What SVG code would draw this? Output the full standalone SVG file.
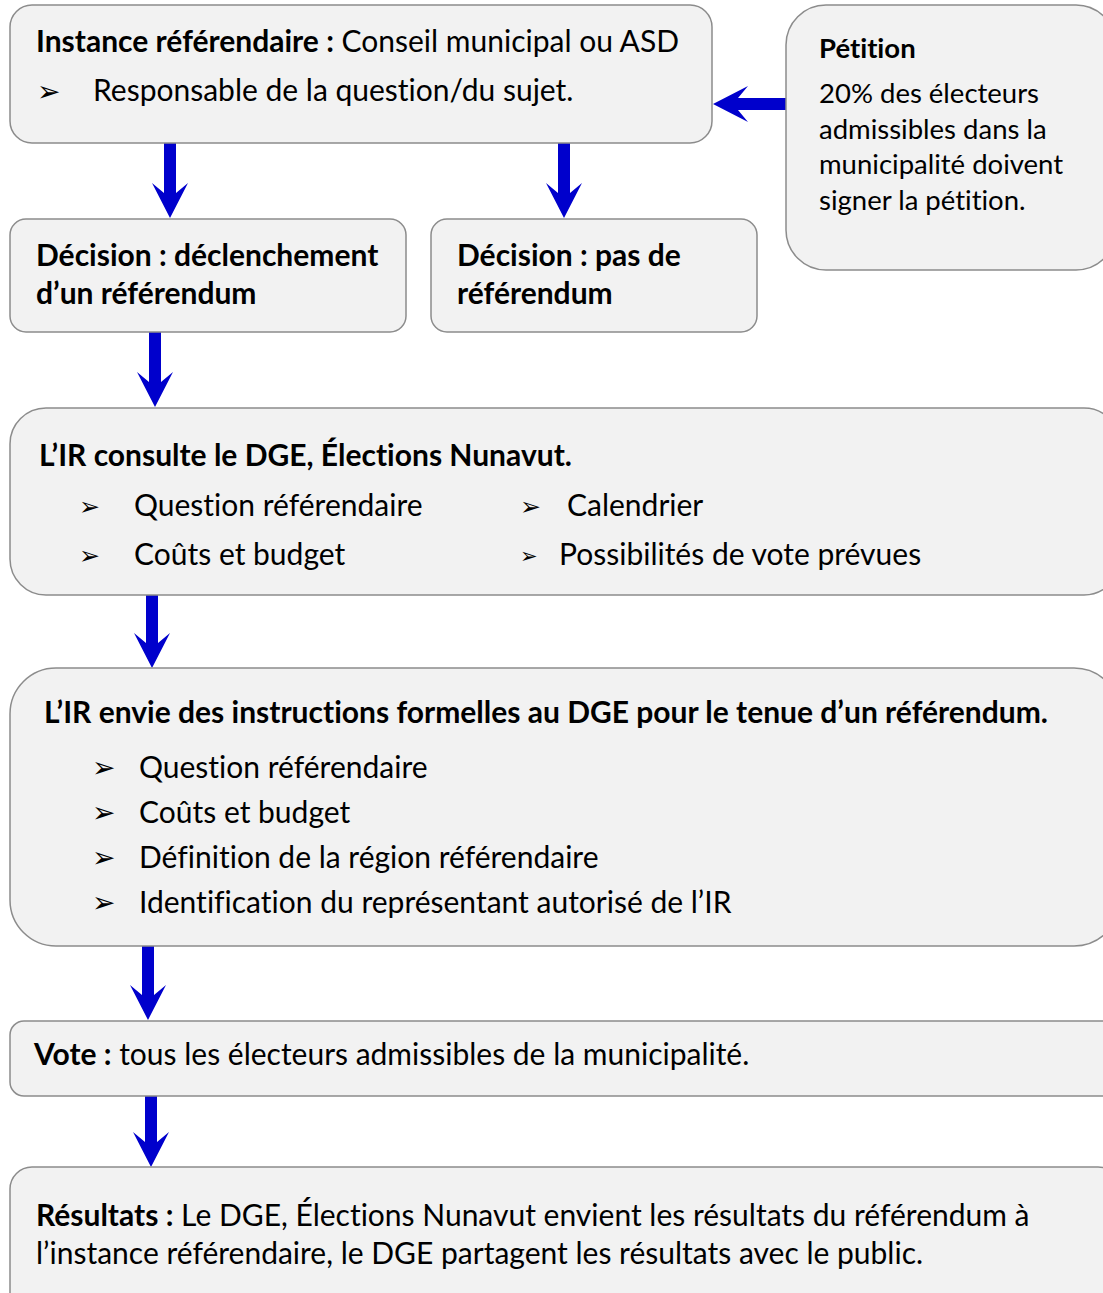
<svg xmlns="http://www.w3.org/2000/svg" width="1103" height="1293" viewBox="0 0 1103 1293">
<style>
.box{fill:#f2f2f2;stroke:#8c8c8c;stroke-width:1.5}
.t{font-family:Lato,"Open Sans","Liberation Sans",sans-serif;font-size:30px;fill:#000;font-variant-ligatures:none}
.p{font-size:27.5px}
.b{font-weight:bold}
.bul{font-family:"DejaVu Sans",sans-serif;font-size:28px;fill:#000}
.arr{fill:#0000cc}
</style>
<g id="connectors" class="arr">
<g transform="translate(170,218)"><polygon points="-6,-75 6,-75 6,-25 18,-35 0,0 -18,-35 -6,-25"/></g>
<g transform="translate(564,218)"><polygon points="-6,-75 6,-75 6,-25 18,-35 0,0 -18,-35 -6,-25"/></g>
<g transform="translate(713,104) rotate(90)"><polygon points="-6,-74 6,-74 6,-25 18,-35 0,0 -18,-35 -6,-25"/></g>
<g transform="translate(155,407)"><polygon points="-6,-75 6,-75 6,-25 18,-35 0,0 -18,-35 -6,-25"/></g>
<g transform="translate(152,668)"><polygon points="-6,-73 6,-73 6,-25 18,-35 0,0 -18,-35 -6,-25"/></g>
<g transform="translate(148,1020)"><polygon points="-6,-74 6,-74 6,-25 18,-35 0,0 -18,-35 -6,-25"/></g>
<g transform="translate(151,1167)"><polygon points="-6,-71 6,-71 6,-25 18,-35 0,0 -18,-35 -6,-25"/></g>
</g>
<g id="instance">
<rect class="box" x="10" y="5" width="702" height="138" rx="22"/>
<text class="t" x="36" y="52"><tspan class="b">Instance référendaire :</tspan> Conseil municipal ou ASD</text>
<text class="bul" x="37" y="101">➢</text>
<text class="t" x="93" y="101">Responsable de la question/du sujet.</text>
</g>
<g id="petition">
<rect class="box" x="786" y="5" width="330" height="265" rx="40"/>
<text class="t p b" x="819" y="58">Pétition</text>
<text class="t p" x="819" y="103">20% des électeurs</text>
<text class="t p" x="819" y="139">admissibles dans la</text>
<text class="t p" x="819" y="174">municipalité doivent</text>
<text class="t p" x="819" y="210">signer la pétition.</text>
</g>
<g id="declenchement">
<rect class="box" x="10" y="219" width="396" height="113" rx="16"/>
<text class="t b" x="36" y="266">Décision : déclenchement</text>
<text class="t b" x="36" y="304">d’un référendum</text>
</g>
<g id="pasdereferendum">
<rect class="box" x="431" y="219" width="326" height="113" rx="16"/>
<text class="t b" x="457" y="266">Décision : pas de</text>
<text class="t b" x="457" y="304">référendum</text>
</g>
<g id="consulte">
<rect class="box" x="10" y="408" width="1110" height="187" rx="36"/>
<text class="t b" x="39" y="466">L’IR consulte le DGE, Élections Nunavut.</text>
<text class="bul" x="79" y="515" style="font-size:25px">➢</text>
<text class="t" x="134" y="516">Question référendaire</text>
<text class="bul" x="79" y="564" style="font-size:25px">➢</text>
<text class="t" x="134" y="565">Coûts et budget</text>
<text class="bul" x="520" y="515" style="font-size:25px">➢</text>
<text class="t" x="567" y="516">Calendrier</text>
<text class="bul" x="520" y="563" style="font-size:21px">➢</text>
<text class="t" x="559" y="565">Possibilités de vote prévues</text>
</g>
<g id="instructions">
<rect class="box" x="10" y="668" width="1110" height="278" rx="46"/>
<text class="t b" x="44" y="723">L’IR envie des instructions formelles au DGE pour le tenue d’un référendum.</text>
<text class="bul" x="92" y="777">➢</text>
<text class="t" x="139" y="778">Question référendaire</text>
<text class="bul" x="92" y="822">➢</text>
<text class="t" x="139" y="823">Coûts et budget</text>
<text class="bul" x="92" y="867">➢</text>
<text class="t" x="139" y="868">Définition de la région référendaire</text>
<text class="bul" x="92" y="912">➢</text>
<text class="t" x="139" y="913">Identification du représentant autorisé de l’IR</text>
</g>
<g id="vote">
<rect class="box" x="10" y="1021" width="1110" height="75" rx="14"/>
<text class="t" x="34" y="1065"><tspan class="b">Vote :</tspan> tous les électeurs admissibles de la municipalité.</text>
</g>
<g id="resultats">
<rect class="box" x="10" y="1167" width="1110" height="150" rx="22"/>
<text class="t" x="36" y="1226"><tspan class="b">Résultats :</tspan> Le DGE, Élections Nunavut envient les résultats du référendum à</text>
<text class="t" x="36" y="1264">l’instance référendaire, le DGE partagent les résultats avec le public.</text>
</g>
</svg>
